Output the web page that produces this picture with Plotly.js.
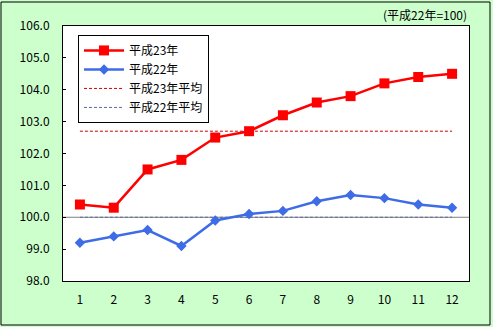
<!DOCTYPE html>
<html><head><meta charset="utf-8">
<script src="https://cdn.plot.ly/plotly-3.0.1.min.js"></script>
<style>html,body{margin:0;padding:0;background:#fff}#c{width:493px;height:327px}</style>
</head><body><div id="c"></div>
<script>
const months = [1,2,3,4,5,6,7,8,9,10,11,12];
const h23 = [100.4,100.3,101.5,101.8,102.5,102.7,103.2,103.6,103.8,104.2,104.4,104.5];
const h22 = [99.2,99.4,99.6,99.1,99.9,100.1,100.2,100.5,100.7,100.6,100.4,100.3];
const h23avg = [102.7,102.7,102.7,102.7,102.7,102.7,102.7,102.7,102.7,102.7,102.7,102.7];
const h22avg = [100.0,100.0,100.0,100.0,100.0,100.0,100.0,100.0,100.0,100.0,100.0,100.0];
const yTicks = [98,99,100,101,102,103,104,105,106];
const yTickText = ['98.0','99.0','100.0','101.0','102.0','103.0','104.0','105.0','106.0'];
const names = ['平成23年','平成22年','平成23年平均','平成22年平均'];

const F = '"Noto Sans CJK JP", "Liberation Sans", sans-serif';
const traces = [
  {x: months, y: h23avg, name: names[2], mode: 'lines', line: {color: '#CC0000', width: 1, dash: '3px,2px'}, legendrank: 3},
  {x: months, y: h22avg, name: names[3], mode: 'lines', line: {color: '#5A6A9A', width: 1, dash: '3px,2px'}, legendrank: 4},
  {x: months, y: h23, name: names[0], mode: 'lines+markers', line: {color: '#FF0000', width: 2.5}, marker: {symbol: 'square', size: 10, color: '#FF0000'}, legendrank: 1},
  {x: months, y: h22, name: names[1], mode: 'lines+markers', line: {color: '#3E6CE6', width: 2.5}, marker: {symbol: 'diamond', size: 8, color: '#3E6CE6'}, legendrank: 2}
];
const layout = {
  width: 493, height: 327,
  paper_bgcolor: '#CCFFCC', plot_bgcolor: '#FFFFFF',
  margin: {l: 63, r: 24, t: 26, b: 46},
  font: {family: F, size: 12, color: '#000'},
  showlegend: true,
  legend: {x: 0.037, y: 0.965, xanchor: 'left', yanchor: 'top', bgcolor: '#FFFFFF', bordercolor: '#000', borderwidth: 1,
           font: {family: F, size: 12, color: '#000'}, tracegroupgap: 0, itemwidth: 40},
  xaxis: {range: [0.5, 12.5], tickmode: 'array', tickvals: months, ticktext: months.map(String), showgrid: false, zeroline: false,
          showline: true, linecolor: '#000', linewidth: 1, mirror: true, ticks: '', ticklabelstandoff: 8, fixedrange: true},
  yaxis: {range: [98, 106], tickmode: 'array', tickvals: yTicks, ticktext: yTickText, showgrid: false, zeroline: false,
          showline: true, linecolor: '#000', linewidth: 1, mirror: true, ticks: 'inside', ticklen: 3, tickcolor: '#000', ticklabelstandoff: 10},
  shapes: [
    {type: 'line', xref: 'paper', yref: 'y', x0: 0, x1: 1, y0: 100, y1: 100, line: {color: '#808080', width: 1}, layer: 'below'},
    {type: 'rect', xref: 'paper', yref: 'paper', x0: -62/406, x1: 1 + 21/406, y0: -44/255, y1: 1 + 24/255, line: {color: '#000', width: 1}}
  ],
  annotations: [
    {text: '(平成22年=100)', xref: 'paper', yref: 'paper', x: 1.0, y: 1.0, xanchor: 'right', yanchor: 'bottom', yshift: 1, showarrow: false,
     font: {family: F, size: 12, color: '#000'}}
  ]
};
Plotly.newPlot('c', traces, layout, {displayModeBar: false, staticPlot: true});
</script></body></html>
